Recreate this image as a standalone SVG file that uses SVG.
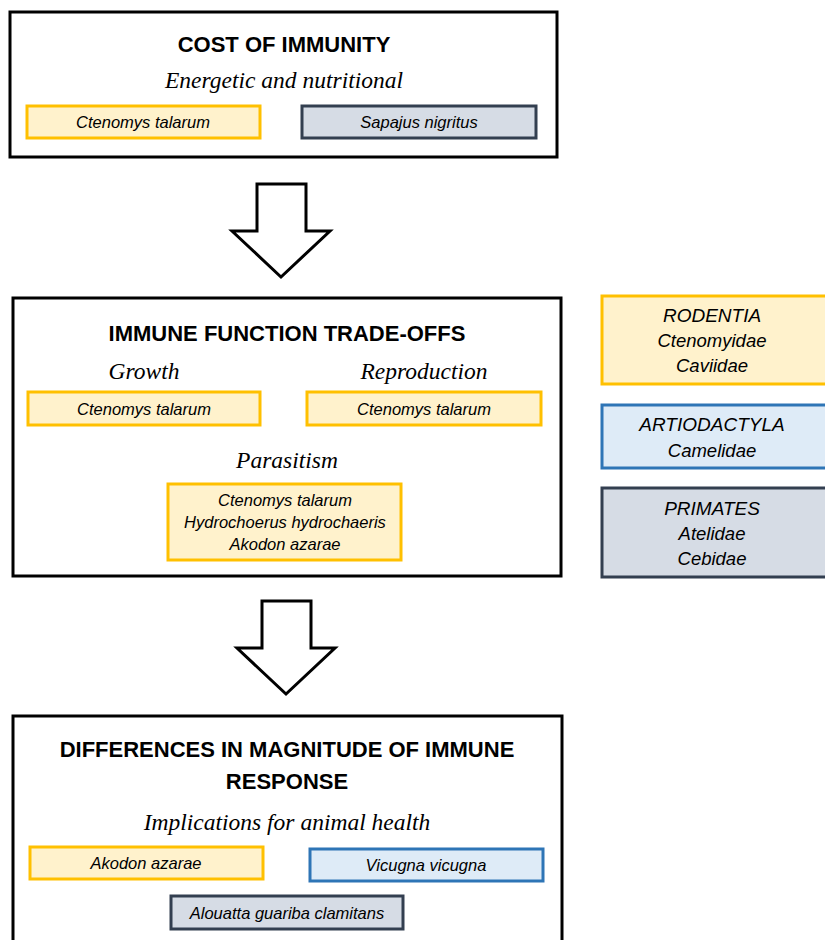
<svg xmlns="http://www.w3.org/2000/svg" width="825" height="940" viewBox="0 0 825 940">
<style>
.main{fill:#fff;stroke:#000;stroke-width:3}
.y{fill:#FFF2CC;stroke:#FFC000;stroke-width:3}
.g{fill:#D6DCE5;stroke:#333F50;stroke-width:3}
.b{fill:#DEEBF7;stroke:#2E75B6;stroke-width:3}
.title{font-family:"Liberation Sans",Arial,sans-serif;font-weight:bold;font-size:22px;text-anchor:middle;fill:#000}
.sub{font-family:"Liberation Serif","Times New Roman",serif;font-style:italic;font-size:23.5px;text-anchor:middle;fill:#000}
.sp{font-family:"Liberation Sans",Arial,sans-serif;font-style:italic;font-size:16.5px;text-anchor:middle;fill:#000}
.leg{font-family:"Liberation Sans",Arial,sans-serif;font-style:italic;font-size:19px;text-anchor:middle;fill:#000}
.legs{font-family:"Liberation Sans",Arial,sans-serif;font-style:italic;font-size:18.5px;text-anchor:middle;fill:#000}
.arrow{fill:#fff;stroke:#000;stroke-width:3;stroke-linejoin:miter}
</style>
<g id="cost">
<rect class="main" x="10" y="12" width="547" height="145"/>
<text class="title" x="284" y="52">COST OF IMMUNITY</text>
<text class="sub" x="284" y="88">Energetic and nutritional</text>
<g id="cost-ct"><rect class="y" x="27" y="106" width="233" height="32"/><text class="sp" x="143" y="128">Ctenomys talarum</text></g>
<g id="cost-sn"><rect class="g" x="302" y="106" width="234" height="32"/><text class="sp" x="419" y="128">Sapajus nigritus</text></g>
</g>
<g id="tradeoffs">
<rect class="main" x="13" y="298" width="548" height="278"/>
<text class="title" x="287" y="341">IMMUNE FUNCTION TRADE-OFFS</text>
<text class="sub" x="144" y="379">Growth</text>
<text class="sub" x="424" y="379">Reproduction</text>
<g id="growth-ct"><rect class="y" x="28" y="392" width="232" height="33"/><text class="sp" x="144" y="415">Ctenomys talarum</text></g>
<g id="repro-ct"><rect class="y" x="307" y="392" width="234" height="33"/><text class="sp" x="424" y="415">Ctenomys talarum</text></g>
<text class="sub" x="287" y="468">Parasitism</text>
<g id="parasitism"><rect class="y" x="168" y="484" width="233" height="76"/>
<text class="sp" x="285" y="506">Ctenomys talarum</text>
<text class="sp" x="285" y="528">Hydrochoerus hydrochaeris</text>
<text class="sp" x="285" y="550">Akodon azarae</text></g>
</g>
<g id="differences">
<rect class="main" x="13" y="716" width="549" height="240"/>
<text class="title" x="287" y="757">DIFFERENCES IN MAGNITUDE OF IMMUNE</text>
<text class="title" x="287" y="789">RESPONSE</text>
<text class="sub" x="287" y="830">Implications for animal health</text>
<g id="diff-aa"><rect class="y" x="30" y="847" width="233" height="32"/><text class="sp" x="146" y="869">Akodon azarae</text></g>
<g id="diff-vv"><rect class="b" x="310" y="849" width="233" height="32"/><text class="sp" x="426" y="871">Vicugna vicugna</text></g>
<g id="diff-ag"><rect class="g" x="171" y="896" width="232" height="33"/><text class="sp" x="287" y="919">Alouatta guariba clamitans</text></g>
</g>
<g id="legend-rodentia"><rect class="y" x="602" y="296" width="230" height="88"/>
<text class="leg" x="712" y="322">RODENTIA</text>
<text class="legs" x="712" y="347">Ctenomyidae</text>
<text class="legs" x="712" y="372">Caviidae</text></g>
<g id="legend-artiodactyla"><rect class="b" x="602" y="405" width="230" height="63"/>
<text class="leg" x="712" y="431">ARTIODACTYLA</text>
<text class="legs" x="712" y="457">Camelidae</text></g>
<g id="legend-primates"><rect class="g" x="602" y="488" width="230" height="89"/>
<text class="leg" x="712" y="515">PRIMATES</text>
<text class="legs" x="712" y="540">Atelidae</text>
<text class="legs" x="712" y="565">Cebidae</text></g>
<g id="connectors">
<polygon class="arrow" points="257,184 306,184 306,231 330,231 281,277 232,231 257,231"/>
<polygon class="arrow" points="262,601 311,601 311,648 335,648 286,694 237,648 262,648"/>
</g>
</svg>
